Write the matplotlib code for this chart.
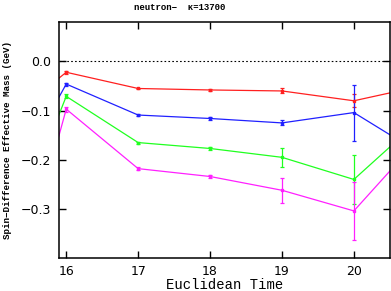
import numpy as np
import matplotlib
matplotlib.use("Agg")
import matplotlib.pyplot as plt

t = [15, 16, 17, 18, 19, 20, 21]

red = [-0.14, -0.022, -0.055, -0.058, -0.060, -0.080, -0.048]
red_err = [0.01, 0.003, 0.002, 0.002, 0.005, 0.0135, 0.01]
blue = [-0.31, -0.046, -0.109, -0.116, -0.125, -0.104, -0.194]
blue_err = [0.02, 0.003, 0.002, 0.003, 0.005, 0.057, 0.08]
green = [-0.44, -0.071, -0.165, -0.177, -0.195, -0.240, -0.108]
green_err = [0.03, 0.004, 0.002, 0.003, 0.019, 0.049, 0.08]
magenta = [-0.63, -0.097, -0.218, -0.234, -0.262, -0.304, -0.142]
magenta_err = [0.04, 0.005, 0.003, 0.004, 0.025, 0.059, 0.09]

series = [
    (red, red_err, "#ff2020"),
    (blue, blue_err, "#2020ff"),
    (green, green_err, "#20ff20"),
    (magenta, magenta_err, "#ff20ff"),
]

fig = plt.figure(figsize=(3.91, 2.91), dpi=100)
ax = fig.add_axes([0.151, 0.113, 0.846, 0.811])

ax.axhline(0.0, color="k", ls=(0, (1.5, 2)), lw=0.8)
for vals, errs, col in series:
    ax.errorbar(t, vals, yerr=errs, color=col, lw=0.9, elinewidth=0.9,
                capsize=1.2, capthick=0.9, marker="s", ms=1.5)

ax.set_xlim(15.9, 20.5)
ax.set_ylim(-0.4, 0.08)
ax.set_xticks([16, 17, 18, 19, 20])
ax.set_xticklabels(["16", "17", "18", "19", "20"])
ax.set_yticks([0.0, -0.1, -0.2, -0.3])
ax.set_yticklabels(["0.0", "\u22120.1", "\u22120.2", "\u22120.3"])
ax.tick_params(direction="in", top=True, right=True, length=5, width=1,
               labelsize=9, pad=6)
ax.tick_params(axis="x", pad=5)
for s in ax.spines.values():
    s.set_linewidth(1.1)

mono = ["Liberation Mono", "DejaVu Sans Mono"]
ax.set_xlabel("Euclidean Time", family=mono, fontsize=10, labelpad=0)
ax.set_ylabel("Spin\u2212Difference Effective Mass (GeV)", family=mono,
              fontweight="bold", fontsize=6.7, labelpad=6)
fig.text(0.46, 0.99, "neutron\u2212  \u03ba=13700", family=mono,
         fontweight="bold", fontsize=6.5, ha="center", va="top")

fig.savefig("out.png", dpi=100)
